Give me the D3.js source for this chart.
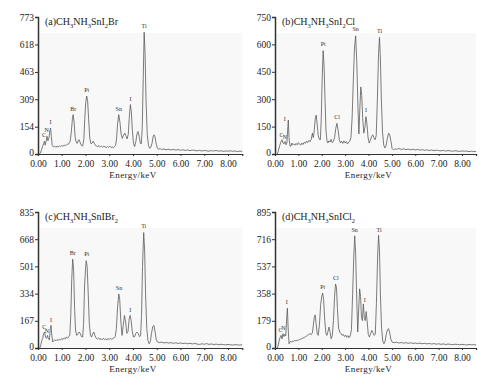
<!DOCTYPE html>
<html lang="en">
<head>
<meta charset="UTF-8">
<title>EDS spectra</title>
<script src="https://d3js.org/d3.v7.min.js"></script>
<style>
    body { margin: 0; background: #fff; }
    svg { display: block; font-family: "Liberation Serif", "DejaVu Serif", serif; }
    .tick text { fill: #222; }
    .domain, .tick line { stroke: #333; }
    .spec { fill: none; stroke: #5a5a5a; stroke-width: 0.8; stroke-linejoin: round; }
    .peak { font-size: 6px; fill: #333; text-anchor: middle; }
</style>
</head>
<body>
<script>
// x axis (energy, keV)
const xTicks = [0, 1, 2, 3, 4, 5, 6, 7, 8];

// (a) CH3NH3SnI2Br
const yTicksA = [0, 154, 309, 463, 618, 773];
const specA = [
    [0.05,0],[0.10,5],[0.15,25],[0.20,45],[0.24,60],[0.27,72],[0.30,50],[0.34,70],[0.38,100],[0.42,75],
    [0.46,90],[0.50,130],[0.53,146],[0.56,100],[0.60,48],[0.65,40],[0.70,45],[0.75,38],[0.80,44],[0.85,40],
    [0.90,46],[0.95,41],[1.00,48],[1.05,44],[1.10,50],[1.15,47],[1.20,52],[1.25,55],[1.30,58],[1.35,70],
    [1.40,120],[1.45,200],[1.48,222],[1.52,180],[1.56,100],[1.60,68],[1.65,60],[1.70,78],[1.74,80],[1.78,62],
    [1.83,48],[1.88,45],[1.93,80],[1.97,200],[2.01,290],[2.05,327],[2.09,300],[2.13,200],[2.18,90],[2.23,58],
    [2.28,62],[2.33,72],[2.37,60],[2.42,48],[2.47,45],[2.52,42],[2.57,47],[2.62,40],[2.67,44],[2.72,38],
    [2.77,45],[2.82,40],[2.87,36],[2.92,42],[2.97,38],[3.02,44],[3.07,36],[3.12,40],[3.17,35],[3.22,42],
    [3.27,50],[3.31,90],[3.35,170],[3.40,222],[3.45,180],[3.50,110],[3.55,88],[3.60,105],[3.65,118],[3.70,105],
    [3.75,85],[3.80,110],[3.84,200],[3.89,279],[3.93,240],[3.97,140],[4.02,60],[4.07,42],[4.12,70],[4.17,115],
    [4.21,127],[4.26,100],[4.31,60],[4.35,57],[4.39,150],[4.43,420],[4.47,687],[4.51,560],[4.55,300],[4.60,110],
    [4.65,50],[4.70,32],[4.75,38],[4.80,60],[4.85,100],[4.89,108],[4.93,95],[4.98,55],[5.03,32],[5.08,28],
    [5.15,30],[5.2,25],[5.3,28],[5.4,24],[5.5,27],[5.6,23],[5.7,26],[5.8,22],[5.9,25],[6.0,21],
    [6.1,24],[6.2,20],[6.3,23],[6.4,19],[6.5,22],[6.6,20],[6.7,18],[6.8,21],[6.9,17],[7.0,20],
    [7.1,18],[7.2,16],[7.3,19],[7.4,17],[7.5,20],[7.6,16],[7.7,18],[7.8,15],[7.9,17],[8.0,16],
    [8.1,18],[8.2,15],[8.3,17],[8.4,14],[8.5,16],[8.6,15]
];
const peaksA = [["C",0.25,95],["N",0.37,122],["I",0.53,168],["Br",1.48,245],["Pt",2.05,350],["Sn",3.40,245],["I",3.89,300],["Ti",4.47,712]];

// (b) CH3NH3SnI2Cl
const yTicksB = [0, 150, 300, 450, 600, 750];
const specB = [
    [0.10,0],[0.15,20],[0.20,45],[0.25,65],[0.30,78],[0.34,60],[0.38,55],[0.43,69],[0.47,50],[0.51,60],
    [0.55,150],[0.57,186],[0.60,90],[0.64,45],[0.68,42],[0.72,60],[0.76,50],[0.80,55],[0.85,48],[0.90,58],
    [0.95,50],[1.00,62],[1.05,55],[1.10,48],[1.15,60],[1.20,52],[1.25,65],[1.30,58],[1.35,70],[1.40,62],
    [1.45,75],[1.50,68],[1.55,80],[1.60,114],[1.64,90],[1.68,130],[1.72,190],[1.76,213],[1.80,170],[1.85,100],
    [1.90,80],[1.94,78],[1.98,200],[2.02,420],[2.06,566],[2.10,480],[2.14,300],[2.18,130],[2.22,75],[2.26,60],
    [2.30,72],[2.35,65],[2.40,80],[2.45,62],[2.50,70],[2.55,90],[2.60,140],[2.65,168],[2.70,130],[2.75,80],
    [2.80,60],[2.85,70],[2.90,58],[2.95,72],[3.00,60],[3.05,68],[3.10,55],[3.15,65],[3.20,70],[3.25,90],
    [3.30,200],[3.35,400],[3.40,580],[3.45,647],[3.50,500],[3.55,250],[3.59,110],[3.63,250],[3.67,367],[3.71,320],
    [3.75,200],[3.80,114],[3.85,150],[3.89,204],[3.93,170],[3.98,90],[4.03,60],[4.08,75],[4.13,95],[4.18,105],
    [4.23,90],[4.28,78],[4.33,100],[4.38,300],[4.43,550],[4.47,638],[4.51,520],[4.55,300],[4.60,120],[4.65,50],
    [4.70,33],[4.75,45],[4.80,80],[4.86,114],[4.91,105],[4.96,70],[5.01,30],[5.06,23],[5.12,28],[5.2,26],
    [5.3,30],[5.4,25],[5.5,28],[5.6,24],[5.7,27],[5.8,23],[5.9,26],[6.0,22],[6.1,25],[6.2,21],
    [6.3,24],[6.4,20],[6.5,23],[6.6,19],[6.7,22],[6.8,18],[6.9,21],[7.0,19],[7.1,17],[7.2,20],
    [7.3,16],[7.4,19],[7.5,17],[7.6,15],[7.7,18],[7.8,16],[7.9,14],[8.0,17],[8.1,15],[8.2,16],
    [8.3,13],[8.4,15],[8.5,14],[8.6,14]
];
const peaksB = [["C",0.28,92],["N",0.42,80],["I",0.42,178],["Pt",2.06,592],["Cl",2.66,192],["Sn",3.45,672],["I",3.89,228],["Ti",4.47,662]];

// (c) CH3NH3SnIBr2
const yTicksC = [0, 167, 334, 501, 668, 835];
const specC = [
    [0.08,0],[0.12,20],[0.16,47],[0.20,60],[0.24,90],[0.28,98],[0.32,65],[0.36,60],[0.40,77],[0.44,55],
    [0.48,50],[0.52,120],[0.55,139],[0.58,80],[0.62,37],[0.66,45],[0.70,50],[0.75,44],[0.80,52],[0.85,46],
    [0.90,55],[0.95,48],[1.00,58],[1.05,52],[1.10,62],[1.15,56],[1.20,67],[1.25,60],[1.30,72],[1.34,80],
    [1.38,200],[1.42,420],[1.46,546],[1.50,480],[1.54,250],[1.58,110],[1.63,77],[1.68,85],[1.73,98],[1.78,90],
    [1.83,70],[1.88,67],[1.92,150],[1.96,380],[2.00,480],[2.03,536],[2.07,500],[2.11,350],[2.16,150],[2.21,80],
    [2.25,67],[2.30,85],[2.35,98],[2.40,75],[2.45,60],[2.50,55],[2.55,62],[2.60,52],[2.65,58],[2.70,50],
    [2.75,60],[2.80,52],[2.85,57],[2.90,49],[2.95,58],[3.00,52],[3.05,60],[3.10,54],[3.15,58],[3.20,62],
    [3.25,70],[3.30,120],[3.35,250],[3.40,332],[3.44,300],[3.49,160],[3.54,77],[3.59,140],[3.64,200],[3.69,160],
    [3.74,90],[3.79,100],[3.84,180],[3.88,200],[3.92,170],[3.97,100],[4.02,67],[4.07,70],[4.12,90],[4.17,98],
    [4.22,90],[4.27,70],[4.32,75],[4.36,200],[4.40,500],[4.45,709],[4.49,600],[4.53,330],[4.58,120],[4.63,45],
    [4.68,26],[4.73,40],[4.78,90],[4.83,130],[4.88,139],[4.93,100],[4.98,50],[5.03,37],[5.1,33],[5.2,36],
    [5.3,31],[5.4,34],[5.5,30],[5.6,33],[5.7,29],[5.8,32],[5.9,28],[6.0,31],[6.1,27],[6.2,30],
    [6.3,26],[6.4,29],[6.5,25],[6.6,28],[6.7,24],[6.8,22],[6.9,26],[7.0,23],[7.1,27],[7.2,22],
    [7.3,25],[7.4,21],[7.5,24],[7.6,20],[7.7,23],[7.8,21],[7.9,19],[8.0,22],[8.1,20],[8.2,18],
    [8.3,21],[8.4,19],[8.5,18],[8.6,20]
];
const peaksC = [["C",0.26,118],["N",0.38,92],["I",0.55,162],["Br",1.46,572],["Pt",2.05,562],["Sn",3.41,356],["I",3.88,224],["Ti",4.45,735]];

// (d) CH3NH3SnICl2
const yTicksD = [0, 179, 358, 537, 716, 895];
const specD = [
    [0.10,0],[0.14,20],[0.18,50],[0.22,70],[0.26,83],[0.30,60],[0.34,94],[0.38,75],[0.42,90],[0.46,80],
    [0.50,200],[0.53,262],[0.56,140],[0.60,28],[0.64,40],[0.68,44],[0.72,38],[0.76,46],[0.80,44],[0.85,50],
    [0.90,46],[0.95,52],[1.00,50],[1.05,56],[1.10,58],[1.15,62],[1.20,66],[1.25,70],[1.30,72],[1.35,80],
    [1.40,85],[1.45,90],[1.50,94],[1.55,88],[1.60,100],[1.64,150],[1.68,200],[1.72,218],[1.76,160],[1.81,90],
    [1.85,83],[1.90,150],[1.95,280],[2.00,340],[2.04,362],[2.08,320],[2.13,180],[2.18,95],[2.22,83],[2.27,110],
    [2.31,138],[2.35,110],[2.40,61],[2.45,80],[2.50,180],[2.55,340],[2.59,421],[2.63,400],[2.67,260],[2.72,130],
    [2.77,105],[2.82,95],[2.87,83],[2.92,90],[2.97,75],[3.02,85],[3.07,70],[3.12,82],[3.17,68],[3.22,80],
    [3.27,120],[3.32,350],[3.37,600],[3.41,738],[3.45,620],[3.50,300],[3.54,105],[3.58,250],[3.62,389],[3.66,340],
    [3.70,200],[3.74,180],[3.78,290],[3.82,200],[3.86,180],[3.90,240],[3.94,180],[3.99,90],[4.04,72],[4.09,95],
    [4.14,116],[4.19,100],[4.24,83],[4.29,90],[4.34,300],[4.39,600],[4.43,742],[4.47,640],[4.51,350],[4.56,130],
    [4.61,45],[4.66,28],[4.71,45],[4.76,90],[4.81,120],[4.86,127],[4.91,100],[4.96,55],[5.01,39],[5.1,35],
    [5.2,38],[5.3,33],[5.4,36],[5.5,32],[5.6,35],[5.7,31],[5.8,34],[5.9,30],[6.0,33],[6.1,29],
    [6.2,32],[6.3,28],[6.4,31],[6.5,27],[6.6,30],[6.7,26],[6.8,29],[6.9,25],[7.0,28],[7.1,24],
    [7.2,27],[7.3,23],[7.4,26],[7.5,24],[7.6,22],[7.7,25],[7.8,23],[7.9,21],[8.0,24],[8.1,22],
    [8.2,20],[8.3,23],[8.4,21],[8.5,22],[8.6,21]
];
const peaksD = [["C",0.24,104],["N",0.36,118],["I",0.50,288],["Pt",2.04,388],["Cl",2.60,446],["Sn",3.41,762],["I",3.84,305],["Ti",4.45,766]];

// titles as [text, isSubscript] segments
const titleA = [["(a)CH",0],["3",1],["NH",0],["3",1],["SnI",0],["2",1],["Br",0]];
const titleB = [["(b)CH",0],["3",1],["NH",0],["3",1],["SnI",0],["2",1],["Cl",0]];
const titleC = [["(c)CH",0],["3",1],["NH",0],["3",1],["SnIBr",0],["2",1]];
const titleD = [["(d)CH",0],["3",1],["NH",0],["3",1],["SnICl",0],["2",1]];

const W = 486, H = 377;
const xMax = 8.6;
const serif = '"Liberation Serif", "DejaVu Serif", serif';

// panel placement
const panels = [
    { data: specA, yTicks: yTicksA, peaks: peaksA, title: titleA, x0: 38,  x8: 228, yTop: 17,  yZero: 154 },
    { data: specB, yTicks: yTicksB, peaks: peaksB, title: titleB, x0: 275, x8: 462, yTop: 17,  yZero: 154 },
    { data: specC, yTicks: yTicksC, peaks: peaksC, title: titleC, x0: 38,  x8: 228, yTop: 212, yZero: 348 },
    { data: specD, yTicks: yTicksD, peaks: peaksD, title: titleD, x0: 275, x8: 462, yTop: 212, yZero: 348 }
];

const svg = d3.select("body").append("svg")
    .attr("width", W)
    .attr("height", H);

panels.forEach(p => {
    const x = d3.scaleLinear()
        .domain([0, 8])
        .range([p.x0, p.x8]);
    const y = d3.scaleLinear()
        .domain([0, d3.max(p.yTicks)])
        .range([p.yZero, p.yTop]);

    const g = svg.append("g");

    // faint plot background
    g.append("rect")
        .attr("x", x(0) + 1)
        .attr("y", p.yTop + 16)
        .attr("width", x(xMax) - x(0) - 1)
        .attr("height", p.yZero - p.yTop - 16)
        .attr("fill", "#f8f8f8");

    // spectrum
    const line = d3.line()
        .x(d => x(d[0]))
        .y(d => y(d[1]));
    g.append("path")
        .datum(p.data)
        .attr("class", "spec")
        .attr("d", line);

    // peak labels
    g.selectAll(".peak")
        .data(p.peaks)
        .enter().append("text")
        .attr("class", "peak")
        .attr("x", d => x(d[1]))
        .attr("y", d => y(d[2]))
        .text(d => d[0]);

    // x axis
    const xAxis = g.append("g")
        .attr("transform", `translate(0,${p.yZero})`)
        .call(d3.axisBottom(x.copy().domain([0, xMax]).range([p.x0, x(xMax)]))
            .tickValues(xTicks)
            .tickFormat(d3.format(".2f"))
            .tickSizeOuter(0)
            .tickSize(2)
            .tickPadding(4));
    xAxis.attr("font-family", serif).attr("font-size", 9.5);
    xAxis.select(".domain").attr("stroke-width", 1.2);

    // y axis
    const yAxis = g.append("g")
        .attr("transform", `translate(${p.x0},0)`)
        .call(d3.axisLeft(y)
            .tickValues(p.yTicks)
            .tickSizeOuter(0)
            .tickSize(3)
            .tickPadding(1));
    yAxis.attr("font-family", serif).attr("font-size", 9.5);
    yAxis.select(".domain").attr("stroke-width", 1.5);
    // lift the zero label a little so it clears the x labels
    yAxis.selectAll(".tick text").filter(d => d === 0).attr("dy", "0.2em");

    // axis label
    g.append("text")
        .attr("x", (p.x0 + p.x8) / 2)
        .attr("y", p.yZero + 24)
        .attr("text-anchor", "middle")
        .attr("font-size", "9px")
        .attr("letter-spacing", "0.4px")
        .attr("fill", "#222")
        .text("Energy/keV");

    // title with subscripts
    const t = g.append("text")
        .attr("x", p.x0 + 7)
        .attr("y", p.yTop + 8)
        .attr("font-size", "10px")
        .attr("fill", "#222");
    let sub = 0;
    p.title.forEach(s => {
        const dy = s[1] - sub;
        t.append("tspan")
            .attr("dy", dy * 2.5)
            .attr("font-size", s[1] ? "6.5px" : "10px")
            .text(s[0]);
        sub = s[1];
    });
});
</script>
</body>
</html>
